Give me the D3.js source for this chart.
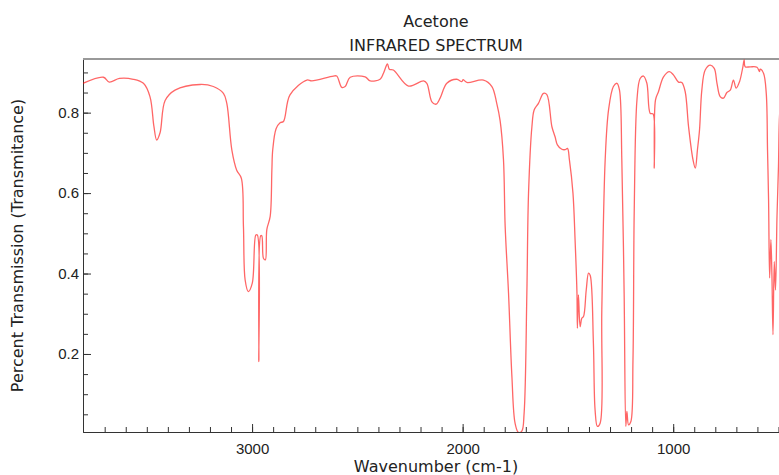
<!DOCTYPE html>
<html>
<body style="margin:0">

<script src="https://d3js.org/d3.v7.min.js"></script>
<style>
  body { background: #fff; }
  svg { display: block; font-family: "DejaVu Sans", sans-serif; }
  .axis text { font-size: 15px; fill: #222; }
  .axis line { stroke: #333; }
  .axis .domain { stroke: #333; }
  .minor text { display: none; }
</style>

<script>
// acetone IR spectrum
const title = "Acetone";
const subtitle = "INFRARED SPECTRUM";
const xLabel = "Wavenumber (cm-1)";
const yLabel = "Percent Transmission (Transmitance)";

const wavenumber = [
  3803, 3706, 3678, 3630, 3564, 3516, 3485, 3466, 3453, 3437, 3413, 3366, 3247, 3184, 3136, 3120,
  3096, 3073, 3051, 3041, 3033, 3018, 2999, 2982, 2975, 2968, 2959, 2954, 2946, 2937, 2930, 2914,
  2906, 2902, 2886, 2867, 2851, 2820, 2740, 2716, 2614, 2598, 2574, 2558, 2534, 2463, 2439, 2392,
  2376, 2357, 2348, 2329, 2257, 2186, 2170, 2146, 2126, 2107, 2075, 2028, 2004, 1998, 1980, 1901,
  1861, 1838, 1822, 1806, 1798, 1782, 1766, 1751, 1735, 1719, 1708, 1695, 1687, 1671, 1660, 1640,
  1616, 1600, 1576, 1561, 1550, 1529, 1513, 1502, 1493, 1476, 1466, 1457, 1455, 1450, 1442, 1434,
  1426, 1413, 1402, 1394, 1379, 1371, 1360, 1347, 1339, 1323, 1307, 1284, 1267, 1255, 1244, 1233,
  1225, 1220, 1212, 1201, 1191, 1185, 1172, 1157, 1141, 1125, 1109, 1096, 1090, 1084, 1070, 1046,
  1018, 999, 975, 959, 943, 927, 906, 895, 885, 875, 864, 848, 824, 805, 792, 777,
  761, 745, 729, 714, 701, 685, 669, 663, 658, 634, 602, 590, 587, 571, 558, 552,
  547, 542, 536, 531, 526, 520, 514, 507, 500, 494, 482, 463
];

const transmittance = [
  0.873, 0.888, 0.876, 0.885, 0.883, 0.873, 0.840, 0.765, 0.732, 0.750, 0.830, 0.856, 0.870, 0.865, 0.848, 0.823,
  0.707, 0.657, 0.637, 0.517, 0.384, 0.355, 0.376, 0.496, 0.496, 0.181, 0.494, 0.494, 0.438, 0.434, 0.509, 0.542,
  0.657, 0.707, 0.760, 0.775, 0.778, 0.844, 0.881, 0.879, 0.891, 0.891, 0.863, 0.865, 0.888, 0.889, 0.879, 0.883,
  0.898, 0.921, 0.908, 0.906, 0.866, 0.879, 0.873, 0.827, 0.821, 0.836, 0.873, 0.883, 0.877, 0.882, 0.875, 0.881,
  0.865, 0.823, 0.780, 0.683, 0.517, 0.351, 0.144, 0.028, 0.005, 0.008, 0.053, 0.351, 0.600, 0.765, 0.807, 0.823,
  0.848, 0.845, 0.765, 0.740, 0.720, 0.709, 0.708, 0.711, 0.683, 0.600, 0.484, 0.351, 0.264, 0.347, 0.268, 0.289,
  0.293, 0.359, 0.401, 0.395, 0.227, 0.061, 0.020, 0.028, 0.310, 0.683, 0.807, 0.865, 0.873, 0.856, 0.683, 0.351,
  0.020, 0.057, 0.024, 0.032, 0.185, 0.558, 0.832, 0.885, 0.891, 0.873, 0.798, 0.797, 0.662, 0.832, 0.852, 0.889,
  0.902, 0.894, 0.876, 0.875, 0.852, 0.765, 0.683, 0.662, 0.707, 0.757, 0.856, 0.906, 0.918, 0.910, 0.873, 0.840,
  0.836, 0.850, 0.856, 0.881, 0.861, 0.877, 0.914, 0.931, 0.914, 0.914, 0.913, 0.902, 0.908, 0.898, 0.848, 0.707,
  0.583, 0.389, 0.484, 0.393, 0.248, 0.430, 0.359, 0.542, 0.666, 0.800, 0.850, 0.870
];

const xTicks = [3000, 2000, 1000];
const yTicks = [0.2, 0.4, 0.6, 0.8];

const spectrum = wavenumber.map((w, i) => ({w: w, t: transmittance[i]}));

var svgWidth = 779,
    svgHeight = 475,
    margin = {top: 59, left: 83, bottom: 43},
    width = 706,
    height = svgHeight - margin.top - margin.bottom;

const svg = d3.select("body").append("svg")
    .attr("width", svgWidth)
    .attr("height", svgHeight);

const g = svg.append("g")
    .attr("transform", `translate(${margin.left},${margin.top})`);

const xScale = d3.scaleLinear()
    .domain([3803, 450])
    .range([0, width]);

const yScale = d3.scaleLinear()
    .domain([0.006, 0.9334])
    .range([height, 0]);

// minor ticks first, majors on top
g.append("g")
    .attr("class", "x axis minor")
    .attr("transform", `translate(0,${height})`)
    .call(d3.axisBottom(xScale).tickValues(d3.range(3700, 450, -100)).tickSize(-5).tickSizeOuter(0));

g.append("g")
    .attr("class", "y axis minor")
    .call(d3.axisLeft(yScale).tickValues(d3.range(0.05, 0.93, 0.05)).tickSize(-5).tickSizeOuter(0));

g.append("g")
    .attr("class", "x axis")
    .attr("transform", `translate(0,${height})`)
    .call(d3.axisBottom(xScale).tickValues(xTicks).tickSize(-8).tickSizeOuter(0).tickPadding(11).tickFormat(d3.format("d")))
    .call(a => a.selectAll("text").attr("dy", "0.71em"));

g.append("g")
    .attr("class", "y axis")
    .call(d3.axisLeft(yScale).tickValues(yTicks).tickSize(-8).tickSizeOuter(0).tickPadding(4).tickFormat(d3.format(".1f")));

// top frame line
g.append("line")
    .attr("x1", 0).attr("x2", width)
    .attr("y1", 0).attr("y2", 0)
    .attr("stroke", "#999")
    .attr("stroke-width", 2);

g.append("clipPath")
    .attr("id", "clip")
  .append("rect")
    .attr("width", width)
    .attr("height", height);

const line = d3.line()
    .curve(d3.curveCatmullRom.alpha(0.5))
    .x(d => xScale(d.w))
    .y(d => yScale(d.t));

g.append("path")
    .datum(spectrum)
    .attr("clip-path", "url(#clip)")
    .attr("fill", "none")
    .attr("stroke", "#ff0000")
    .attr("stroke-opacity", 0.6)
    .attr("stroke-width", 1.3)
    .attr("d", line);

// titles and labels
const cx = margin.left + width / 2;

svg.append("text")
    .attr("x", cx).attr("y", 27)
    .attr("text-anchor", "middle")
    .style("font-size", "16px").style("fill", "#222")
    .text(title);

svg.append("text")
    .attr("x", cx).attr("y", 51)
    .attr("text-anchor", "middle")
    .style("font-size", "16px").style("fill", "#222")
    .text(subtitle);

svg.append("text")
    .attr("x", cx).attr("y", 472)
    .attr("text-anchor", "middle")
    .style("font-size", "16px").style("fill", "#222")
    .text(xLabel);

svg.append("text")
    .attr("transform", `translate(23,${margin.top + height / 2}) rotate(-90)`)
    .attr("text-anchor", "middle")
    .style("font-size", "16px").style("fill", "#222")
    .text(yLabel);
</script>
</body>
</html>
